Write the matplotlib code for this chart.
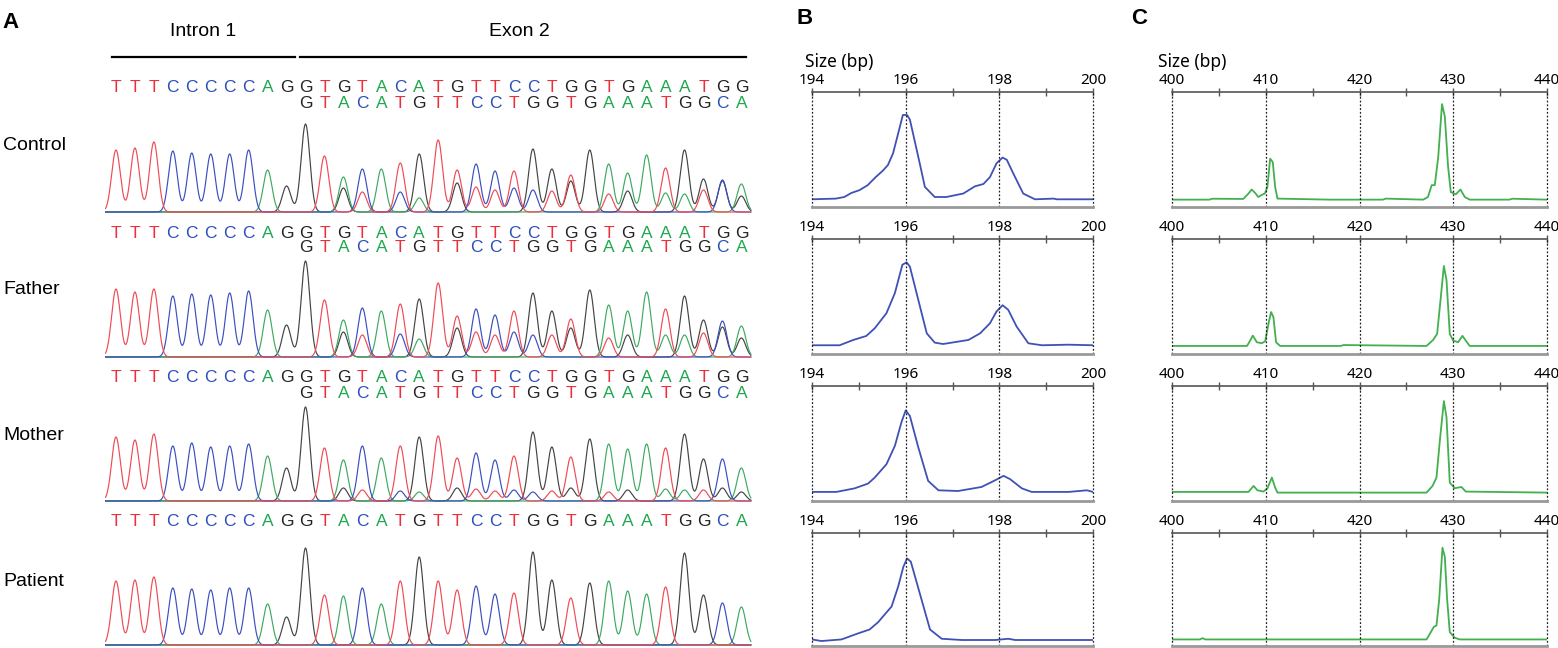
import numpy as np
import matplotlib
matplotlib.use("Agg")
import matplotlib.pyplot as plt

# ---- panel A: sequences and peak heights (px above baseline) ----
SEQ1 = "TTTCCCCCAGGTGTACATGTTCCTGGTGAAATGG"
SEQ2 = "GTACATGTTCCTGGTGAAATGGCA"   # second allele, starts under base 10
SEQ_PATIENT = "TTTCCCCCAGGTACATGTTCCTGGTGAAATGGCA"
SEQ2_START = 10

# where both alleles carry the same base the whole peak is in h1 (h2 = 0)
control_h1 = [62, 64, 70, 61, 59, 58, 58, 62, 42, 26,
              88, 56, 24, 20, 43, 20, 14, 72, 29, 25, 22, 24, 22, 21,
              31, 62, 18, 21, 57, 19, 18, 22, 31, 16]
control_h2 = [0, 0, 35, 43, 0, 49, 58, 0, 42, 48, 41, 41,
              63, 43, 37, 0, 48, 39, 0, 44, 62, 33, 32, 28]
father_h1 = [68, 65, 68, 61, 63, 62, 64, 66, 47, 32,
             96, 57, 25, 22, 46, 23, 18, 74, 29, 25, 22, 25, 22, 22,
             29, 67, 19, 22, 65, 22, 22, 24, 30, 19]
father_h2 = [0, 0, 37, 49, 0, 53, 58, 0, 41, 48, 42, 46,
             64, 46, 38, 0, 52, 46, 0, 48, 61, 37, 36, 31]
mother_h1 = [64, 61, 67, 55, 58, 54, 55, 57, 45, 33,
             94, 53, 13, 11, 43, 10, 9, 65, 13, 12, 10, 11, 9, 10,
             13, 62, 9, 11, 57, 12, 11, 11, 13, 9]
mother_h2 = [0, 0, 41, 55, 0, 55, 64, 0, 43, 48, 41, 45,
             69, 54, 44, 0, 57, 52, 0, 53, 67, 42, 42, 33]
patient_h = [64, 65, 68, 57, 56, 55, 57, 57, 41, 28,
             97, 50, 49, 57, 41, 64, 88, 64, 55, 59, 51, 52, 93, 65,
             47, 62, 64, 54, 51, 58, 92, 50, 42, 38]

# ---- panel B: fragment trace (bp, % of panel height) ----
b_control_x = [194.0, 194.51, 194.69, 194.84, 195.01, 195.19, 195.36, 195.51, 195.62, 195.73,
               195.84, 195.94, 196.03, 196.09, 196.19, 196.3, 196.41, 196.62, 196.87, 197.23,
               197.48, 197.66, 197.8, 197.94, 198.07, 198.16, 198.3, 198.51, 198.76, 199.16,
               199.23, 200.0]
b_control_y = [6.7, 7.3, 8.7, 12.2, 14.6, 19, 26, 31.5, 36.4, 46.6,
               64, 80, 80, 76, 58, 38, 17.5, 8.7, 8.7, 11.7,
               18, 20, 26, 38, 43, 41, 29, 11.7, 6.7, 7.3,
               6.7, 6.7]
b_father_x = [194.0, 194.59, 194.88, 195.16, 195.34, 195.59, 195.77, 195.93, 196.02, 196.09,
              196.27, 196.45, 196.62, 196.8, 197.34, 197.59, 197.8, 197.94, 198.07, 198.19,
              198.37, 198.62, 198.91, 199.48, 200.0]
b_father_y = [7.6, 7.6, 12.2, 15.7, 22.4, 35.5, 53, 77.6, 79.7, 76,
              47, 18, 9.9, 8.7, 12.2, 18, 26.7, 37, 42.4, 38.4,
              23.8, 9.3, 7.6, 8.1, 7.6]
b_mother_x = [194.0, 194.52, 194.91, 195.2, 195.34, 195.59, 195.77, 195.91, 196.0, 196.09,
              196.27, 196.48, 196.7, 197.12, 197.62, 197.91, 198.09, 198.23, 198.48, 198.69,
              199.48, 199.87, 200.0]
b_mother_y = [7.9, 7.9, 11, 15.2, 20.4, 32, 48, 68.5, 78.7, 74,
              46.6, 17.5, 9.3, 8.7, 12.2, 18, 21.9, 19, 11, 7.9,
              7.9, 9.3, 7.9]
b_patient_x = [194.0, 194.2, 194.63, 194.98, 195.23, 195.41, 195.7, 195.84, 195.95, 196.03,
               196.11, 196.3, 196.52, 196.77, 197.2, 197.91, 198.19, 198.34, 200.0]
b_patient_y = [5.8, 4.4, 5.8, 11.1, 14.6, 21, 35, 52.6, 70, 77.5,
               74.6, 46.8, 14.6, 6.4, 5.3, 5.3, 6.4, 5.3, 5.3]

# ---- panel C: fragment trace (bp, % of panel height) ----
c_control_x = [400.0, 404.0, 404.3, 407.6, 408.16, 408.5, 408.87, 409.2, 409.69, 409.9,
               410.18, 410.47, 410.75, 411.0, 411.25, 416.86, 422.5, 422.8, 426.8, 427.3,
               427.7, 428.03, 428.4, 428.8, 429.1, 429.45, 429.74, 430.27, 430.77, 431.23,
               431.76, 436.0, 436.3, 440.0]
c_control_y = [6.4, 6.4, 7.2, 7.0, 11.7, 15.2, 12.2, 8.7, 11, 11.7,
               17.5, 42, 39, 17.5, 7.3, 6.4, 6.4, 7.3, 6.4, 8.7,
               19, 19, 43.7, 89.5, 78.7, 35, 13, 11, 15.2, 8.7,
               6.4, 6.4, 7.2, 6.4]
c_father_x = [400.0, 408.0, 408.34, 408.62, 409.05, 409.58, 409.94, 410.29, 410.57, 410.82,
              411.1, 411.53, 418.0, 418.3, 427.15, 427.86, 428.28, 428.64, 429.0, 429.28,
              429.63, 429.99, 430.52, 430.98, 431.33, 431.76, 440.0]
c_father_y = [7, 7, 11.7, 16, 10.2, 9.4, 11.1, 26.3, 36.5, 32,
              10.2, 7, 7, 7.8, 7, 12.3, 17.5, 46.8, 76.6, 64.3,
              17.5, 11.7, 10.2, 15.8, 11.7, 7, 7]
c_mother_x = [400.0, 408.16, 408.7, 409.12, 409.76, 410.18, 410.65, 411.0, 411.25, 427.15,
              427.79, 428.21, 428.57, 429.0, 429.28, 429.63, 430.16, 430.87, 431.33, 440.0]
c_mother_y = [7.9, 7.9, 13.1, 9.3, 8.2, 11.1, 20.4, 11.7, 7.3, 7.3,
              13.1, 20.4, 52.5, 86.9, 72.9, 16, 11.1, 12.2, 8.2, 7.3]
c_patient_x = [400.0, 403.0, 403.26, 403.55, 427.15, 427.57, 427.93, 428.21, 428.5, 428.85,
               429.1, 429.35, 429.63, 430.16, 430.7, 440.0]
c_patient_y = [5.8, 5.8, 7, 5.8, 5.8, 11.7, 17, 18.1, 41, 87,
               79, 41, 12.3, 7.3, 5.8, 5.8]

row_names = ["Control", "Father", "Mother", "Patient"]

W, H = 1558, 648
fig = plt.figure(figsize=(W / 100, H / 100), dpi=100)

LETTER = {"A": "#1fa84f", "C": "#2b4fb8", "G": "#222222", "T": "#e8313a"}
TRACE = {"A": "#3daa62", "C": "#3a4fc0", "G": "#444444", "T": "#ee4b55"}
SANS = ["Liberation Sans", "DejaVu Sans"]
UI = ["Noto Sans", "DejaVu Sans"]


def px_rect(x0, y0, x1, y1):
    return [x0 / W, 1 - y1 / H, (x1 - x0) / W, (y1 - y0) / H]


def add_peaks(chan, xs, seq, heights, start):
    # each called base drawn as a bump of its measured height
    for k, (b, h) in enumerate(zip(seq, heights)):
        chan[b] += h * np.exp(-0.5 * ((xs - (start + k)) / 0.23) ** 2)


# panel A
a_rows = [
    (SEQ1, control_h1, control_h2, 87, 103, 212, 145),
    (SEQ1, father_h1, father_h2, 233, 248, 357, 290),
    (SEQ1, mother_h1, mother_h2, 378, 393, 501, 435),
    (SEQ_PATIENT, patient_h, None, 521, None, 645, 582),
]
xs = np.linspace(-0.55, 33.5, 4000)
for r, (seq, h1, h2, y1, y2, base, ylab) in enumerate(a_rows):
    ax = fig.add_axes(px_rect(105, base - 140, 752, base + 2))
    ax.set_xlim(-0.58, 33.56)
    ax.set_ylim(-2, 140)
    ax.axis("off")

    chan = {b: np.zeros_like(xs) for b in "ACGT"}
    add_peaks(chan, xs, seq, h1, 0)
    if h2 is not None:
        add_peaks(chan, xs, SEQ2, h2, SEQ2_START)
    for b in "GACT":
        ax.plot(xs, chan[b], color=TRACE[b], lw=0.85)

    for k, b in enumerate(seq):
        ax.text(k, base - y1, b, color=LETTER[b], ha="center", va="center",
                fontsize=12.5, family=SANS)
    if h2 is not None:
        for k, b in enumerate(SEQ2):
            ax.text(SEQ2_START + k, base - y2, b, color=LETTER[b], ha="center",
                    va="center", fontsize=12.5, family=SANS)

    fig.text(3 / W, 1 - ylab / H, row_names[r], ha="left", va="center",
             fontsize=14, family=SANS)

    if r == 0:
        ax.plot([-0.2, 9.45], [155, 155], color="black", lw=1.6, clip_on=False)
        ax.plot([9.7, 33.25], [155, 155], color="black", lw=1.6, clip_on=False)
        ax.text(4.6, 180, "Intron 1", ha="center", va="center", fontsize=14, family=SANS)
        ax.text(21.3, 180, "Exon 2", ha="center", va="center", fontsize=14, family=SANS)


def trace_panel(rect, xlim, majors, minors, color, x, y):
    ax = fig.add_axes(rect)
    ax.plot(x, y, color=color, lw=1.3)
    ax.set_xlim(xlim)
    ax.set_ylim(0, 100)
    ax.spines["left"].set_visible(False)
    ax.spines["right"].set_visible(False)
    ax.spines["top"].set_color("#555555")
    ax.spines["top"].set_linewidth(1.2)
    ax.spines["bottom"].set_color("#999999")
    ax.spines["bottom"].set_linewidth(2)
    ax.xaxis.tick_top()
    ax.set_xticks(majors)
    ax.set_xticks(minors, minor=True)
    ax.set_xticklabels([str(m) for m in majors], family=UI)
    ax.tick_params(axis="x", which="both", direction="inout", length=6, width=1,
                   color="#555555", labelsize=11, pad=0)
    ax.set_yticks([])
    for m in majors:
        ax.axvline(m, color="#222222", ls=(0, (1.5, 1.5)), lw=0.9, clip_on=False)
    return ax


b_data = [(b_control_x, b_control_y), (b_father_x, b_father_y),
          (b_mother_x, b_mother_y), (b_patient_x, b_patient_y)]
c_data = [(c_control_x, c_control_y), (c_father_x, c_father_y),
          (c_mother_x, c_mother_y), (c_patient_x, c_patient_y)]
for r in range(4):
    top = 92 + 147 * r
    bottom = min(top + 115, 646)
    trace_panel(px_rect(812, top, 1093, bottom), (194, 200), [194, 196, 198, 200],
                [195, 197, 199], "#3f51b5", *b_data[r])
    trace_panel(px_rect(1172, top, 1547, bottom), (400, 440), [400, 410, 420, 430, 440],
                [405, 415, 425, 435], "#43b04f", *c_data[r])

fig.text(805 / W, 1 - 62 / H, "Size (bp)", ha="left", va="center", fontsize=12.5, family=UI)
fig.text(1158 / W, 1 - 62 / H, "Size (bp)", ha="left", va="center", fontsize=12.5, family=UI)

for lab, x, y in [("A", 2, 22), ("B", 796, 18), ("C", 1131, 18)]:
    fig.text(x / W, 1 - y / H, lab, ha="left", va="center", fontsize=16,
             fontweight="bold", family=SANS)

fig.savefig("out.png", dpi=100)
